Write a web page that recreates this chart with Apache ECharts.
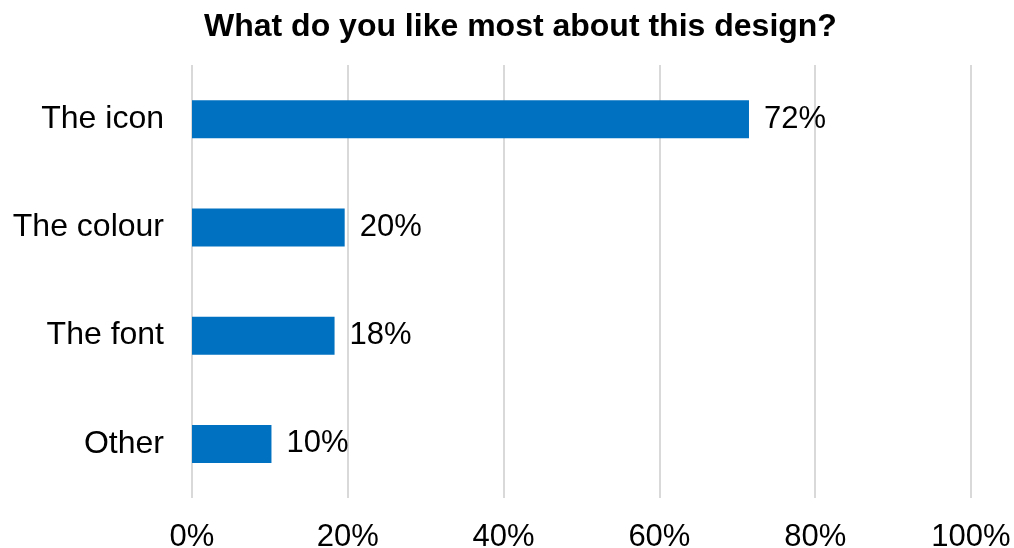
<!DOCTYPE html>
<html>
<head>
<meta charset="utf-8">
<script src="https://cdn.jsdelivr.net/npm/echarts@6/dist/echarts.min.js"></script>
<style>html,body{margin:0;padding:0;background:#fff;}#c{width:1014px;height:548px;}</style>
</head>
<body>
<div id="c"></div>
<script>
var categories = ['The icon', 'The colour', 'The font', 'Other'];
var values = [0.715, 0.196, 0.183, 0.102];
var tickLabels = ['0%', '20%', '40%', '60%', '80%', '100%'];
var titleText = 'What do you like most about this design?';

var chart = echarts.init(document.getElementById('c'));
var font = '"Liberation Sans", Arial, sans-serif';
chart.setOption({
  animation: false,
  title: {
    text: titleText,
    left: 199,
    top: 6,
    textStyle: { fontFamily: font, fontWeight: 'bold', fontSize: 32, color: '#000' }
  },
  grid: { left: 192, right: 43, top: 65, bottom: 50, containLabel: false, outerBoundsMode: 'none' },
  xAxis: {
    type: 'value',
    min: 0, max: 1, interval: 0.2,
    axisLine: { show: false },
    axisTick: { show: false },
    splitLine: { show: true, lineStyle: { color: '#d9d9d9', width: 2 } },
    axisLabel: {
      margin: 24,
      fontFamily: font, fontSize: 31, color: '#000',
      formatter: function (v) { return tickLabels[Math.round(v / 0.2)]; }
    }
  },
  yAxis: {
    type: 'category',
    inverse: true,
    data: categories,
    axisLine: { show: false },
    axisTick: { show: false },
    axisLabel: { margin: 28, fontFamily: font, fontSize: 32, color: '#000' }
  },
  series: [{
    type: 'bar',
    data: values,
    barWidth: 38,
    itemStyle: { color: '#0070C0' },
    label: {
      show: true,
      position: 'right',
      distance: 15,
      fontFamily: font, fontSize: 31, color: '#000',
      formatter: function (p) { return Math.round(p.value * 100) + '%'; }
    }
  }]
});
</script>
</body>
</html>
